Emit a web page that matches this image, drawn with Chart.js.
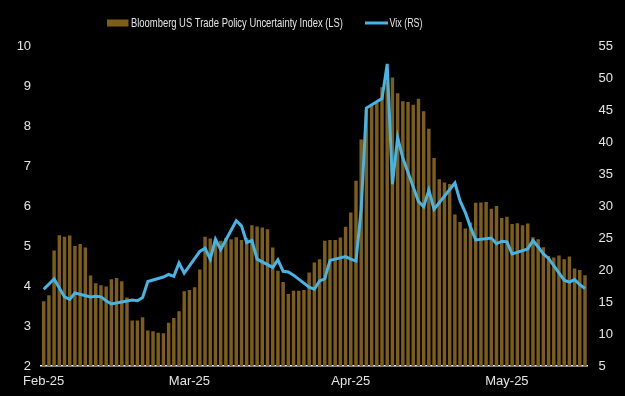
<!DOCTYPE html>
<html>
<head>
<meta charset="utf-8">
<script src="https://cdn.jsdelivr.net/npm/chart.js@4.4.1/dist/chart.umd.min.js"></script>
<style>
  html, body { margin: 0; padding: 0; background: #000; }
  #wrap { width: 625px; height: 396px; position: relative; }
</style>
</head>
<body>
<div id="wrap"><canvas id="c" width="625" height="396"></canvas></div>
<script>
// ---------- DATA ----------
const startDate = '2025-02-01';   // one category per calendar day
const dayCount = 105;             // 1 Feb 2025 .. 16 May 2025
const monthTickLabels = { '2025-02-01': 'Feb-25', '2025-03-01': 'Mar-25', '2025-04-01': 'Apr-25', '2025-05-01': 'May-25' };

const seriesNames = ['Bloomberg US Trade Policy Uncertainty Index (LS)', 'Vix (RS)'];

// Bloomberg US Trade Policy Uncertainty Index (left scale), daily
const tradePolicyIndex = [
  3.62, 3.77, 4.89, 5.27, 5.23, 5.26, 5.00, 5.05, 4.96, 4.26,
  4.07, 4.02, 3.99, 4.17, 4.20, 4.12, 3.71, 3.14, 3.14, 3.22,
  2.89, 2.87, 2.83, 2.82, 3.08, 3.20, 3.37, 3.87, 3.90, 3.97,
  4.41, 5.23, 5.19, 5.17, 5.13, 5.20, 5.17, 5.22, 5.15, 5.20,
  5.52, 5.49, 5.46, 5.42, 4.96, 4.38, 4.10, 3.80, 3.88, 3.88,
  3.90, 4.34, 4.59, 4.67, 5.13, 5.15, 5.15, 5.21, 5.48, 5.84,
  6.63, 7.66, 8.40, 8.50, 8.58, 8.97, 9.10, 9.21, 8.82, 8.62,
  8.60, 8.53, 8.68, 8.37, 7.93, 7.20, 6.67, 6.59, 6.55, 5.79,
  5.60, 5.44, 5.59, 6.08, 6.09, 6.10, 5.93, 6.00, 5.70, 5.73,
  5.55, 5.57, 5.52, 5.56, 5.22, 5.17, 4.97, 4.75, 4.71, 4.76,
  4.67, 4.74, 4.44, 4.40, 4.27
];

// VIX (right scale), trading days only (null = no close that day)
const vix = [
  17.0, null, 18.6, 17.2, 15.8, 15.4, 16.4, null, null, 15.8,
  15.9, 15.8, 15.2, 14.7, null, null, null, 15.3, 15.2, 15.7,
  18.2, null, null, 18.9, 19.3, 19.0, 21.1, 19.5, null, null,
  22.9, 23.4, 21.7, 24.8, 23.2, null, null, 27.7, 26.9, 24.3,
  24.6, 21.7, null, null, 20.4, 21.6, 19.8, 19.7, 19.2, null,
  null, 17.3, 17.0, 18.3, 18.6, 21.5, null, null, 22.1, 21.7,
  21.4, 29.5, 45.3, null, null, 46.8, 52.2, 33.4, 40.7, 37.5,
  null, null, 30.7, 29.9, 32.5, 29.5, null, null, null, 33.6,
  30.8, 29.0, 26.7, 24.7, null, null, 25.0, 24.1, 24.5, 24.4,
  22.5, null, null, 23.3, 24.6, 23.6, 22.5, 21.8, null, null,
  18.4, 18.1, 18.5, 17.7, 17.1
];

const leftTicks = [2, 3, 4, 5, 6, 7, 8, 9, 10];
const rightTicks = [5, 10, 15, 20, 25, 30, 35, 40, 45, 50, 55];

// ---------- BUILD ----------
const days = [];
{
  const d0 = new Date(startDate + 'T00:00:00Z');
  for (let k = 0; k < dayCount; k++) {
    const d = new Date(d0.getTime() + k * 86400000);
    days.push(d.toISOString().slice(0, 10));
  }
}

const BAR = '#7d5e18';
const LINE = '#46b4e6';
const TXT = '#e4e4e4';
const FONT = "'Liberation Sans Narrow', 'Arial Narrow', 'Liberation Sans', Arial, sans-serif";

const refLegend = {
  id: 'refLegend',
  afterDraw(chart) {
    const ctx = chart.ctx;
    ctx.save();
    ctx.font = "13px " + FONT;
    ctx.fillStyle = TXT;
    ctx.textBaseline = 'alphabetic';
    ctx.textAlign = 'left';
    const drawFit = (text, x, baseY, targetW) => {
      const w = ctx.measureText(text).width;
      ctx.save();
      ctx.translate(x, baseY);
      ctx.scale(targetW / w, 1);
      ctx.fillText(text, 0, 0);
      ctx.restore();
    };
    // bar swatch
    ctx.fillStyle = BAR;
    ctx.fillRect(107, 19.5, 21.5, 7);
    ctx.fillStyle = TXT;
    drawFit(chart.data.datasets[0].label, 131, 26.7, 212);
    // line swatch
    ctx.strokeStyle = LINE;
    ctx.lineWidth = 3;
    ctx.beginPath();
    ctx.moveTo(365, 23);
    ctx.lineTo(388, 23);
    ctx.stroke();
    drawFit(chart.data.datasets[1].label, 389.5, 26.7, 33);
    ctx.restore();
  }
};

new Chart(document.getElementById('c'), {
  data: {
    labels: days,
    datasets: [
      {
        type: 'bar',
        label: seriesNames[0],
        data: tradePolicyIndex,
        yAxisID: 'yL',
        backgroundColor: BAR,
        borderWidth: 0,
        barPercentage: 0.66,
        categoryPercentage: 1.0,
        order: 2
      },
      {
        type: 'line',
        label: seriesNames[1],
        data: vix,
        yAxisID: 'yR',
        borderColor: LINE,
        borderWidth: 3,
        pointRadius: 0,
        tension: 0,
        spanGaps: true,
        fill: false,
        order: 1
      }
    ]
  },
  options: {
    responsive: false,
    animation: false,
    devicePixelRatio: 1,
    layout: { padding: { top: 46, left: 0, right: 0, bottom: 0 } },
    plugins: {
      legend: { display: false },
      tooltip: { enabled: false }
    },
    scales: {
      x: {
        type: 'category',
        offset: true,
        grid: { display: false, drawTicks: false },
        border: { display: true, color: '#ffffff', width: 1.5 },
        ticks: {
          autoSkip: false,
          maxRotation: 0,
          minRotation: 0,
          padding: 8,
          color: TXT,
          font: { family: FONT, size: 13 },
          callback: function (v) {
            const lab = this.getLabelForValue(v);
            return monthTickLabels[lab] || '';
          }
        },
        afterFit(s) { s.height = 30; }
      },
      yL: {
        type: 'linear',
        position: 'left',
        min: leftTicks[0],
        max: leftTicks[leftTicks.length - 1],
        grid: { display: false, drawTicks: false },
        border: { display: false },
        afterBuildTicks(s) { s.ticks = leftTicks.map(v => ({ value: v })); },
        ticks: { padding: 10, color: TXT, font: { family: FONT, size: 13 } },
        afterFit(s) { s.width = 41.1; }
      },
      yR: {
        type: 'linear',
        position: 'right',
        min: rightTicks[0],
        max: rightTicks[rightTicks.length - 1],
        grid: { display: false, drawTicks: false },
        border: { display: false },
        afterBuildTicks(s) { s.ticks = rightTicks.map(v => ({ value: v })); },
        ticks: { padding: 11, color: TXT, font: { family: FONT, size: 13 } },
        afterFit(s) { s.width = 37.4; }
      }
    }
  },
  plugins: [refLegend]
});
</script>
</body>
</html>
